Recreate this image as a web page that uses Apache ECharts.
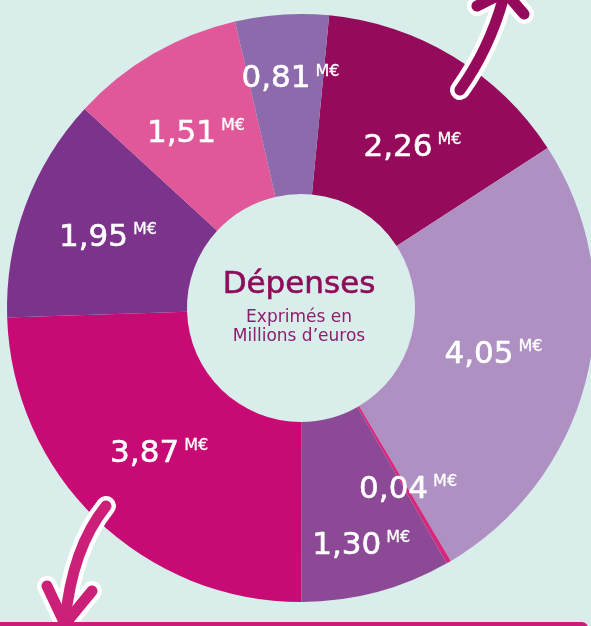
<!DOCTYPE html>
<html>
<head>
<meta charset="utf-8">
<script src="https://cdn.jsdelivr.net/npm/echarts@6/dist/echarts.min.js"></script>
<style>
html,body{margin:0;padding:0;background:#d9edeb;}
#c{width:591px;height:626px;}
</style>
</head>
<body>
<div id="c"></div>
<script>
// Data (clockwise from top)
const values = [2.26, 4.05, 0.04, 1.30, 3.87, 1.95, 1.51, 0.81];
const unit = 'M€';
const centerTitle = 'Dépenses';
const centerSub = ['Exprimés en', 'Millions d’euros'];

// Styles
const sliceColors = ['#950a5a', '#ae90c2', '#d8287e', '#8b4996', '#c80b74', '#7b338b', '#e05899', '#8d6aab'];
const labelShift = [[4, 17], [-9, 0], [3, 3], [7, 38], [2, -3], [1, 2], [-1, 5], [3, -22]];

const chart = echarts.init(document.getElementById('c'), null, {renderer: 'canvas'});
const FONT = '"DejaVu Sans", "Noto Sans", sans-serif';

function arrow(curve, barbs, color) {
  const els = [];
  [['#ffffff', 20, 20], [color, 11, 21]].forEach(([c, w, z]) => {
    els.push({type: 'bezierCurve', z: z, shape: curve,
      style: {fill: null, stroke: c, lineWidth: w, lineCap: 'round', lineJoin: 'round'}});
    els.push({type: 'polyline', z: z, shape: {points: barbs},
      style: {fill: null, stroke: c, lineWidth: w, lineCap: 'round', lineJoin: 'round'}});
  });
  return els;
}

const option = {
  backgroundColor: '#d9edeb',
  animation: false,
  series: [{
    type: 'pie',
    center: [301, 308],
    radius: [114, 294],
    startAngle: 84.5,
    clockwise: true,
    avoidLabelOverlap: false,
    emphasis: {disabled: true},
    itemStyle: {borderWidth: 0},
    label: {
      show: true,
      position: 'inside',
      formatter: p => '{v|' + p.value.toFixed(2).replace('.', ',') + '}{u|' + unit + '}',
      rich: {
        v: {color: '#fff', fontSize: 31, fontFamily: FONT, lineHeight: 34, textBorderColor: '#fff', textBorderWidth: 0.6},
        u: {color: '#fff', fontSize: 16, fontFamily: FONT, lineHeight: 18, verticalAlign: 'top', padding: [1, 0, 0, 5], textBorderColor: '#fff', textBorderWidth: 0.3}
      }
    },
    labelLine: {show: false},
    data: values.map((v, i) => ({
      value: v,
      itemStyle: {color: sliceColors[i]},
      label: {offset: labelShift[i]}
    }))
  }],
  graphic: [
    {type: 'text', z: 10, x: 299, y: 285,
      style: {text: centerTitle, fill: '#8e0d5b', font: '31px ' + FONT, align: 'center', verticalAlign: 'middle', stroke: '#8e0d5b', lineWidth: 0.6}},
    {type: 'text', z: 10, x: 299, y: 318,
      style: {text: centerSub[0], fill: '#8e1d6c', font: '17px ' + FONT, align: 'center', verticalAlign: 'middle'}},
    {type: 'text', z: 10, x: 299, y: 337,
      style: {text: centerSub[1], fill: '#8e1d6c', font: '17px ' + FONT, align: 'center', verticalAlign: 'middle'}},
    {type: 'rect', z: 30, shape: {x: -10, y: 622, width: 598, height: 20, r: 6}, style: {fill: '#c81e78'}}
  ].concat(
    arrow({x1: 106, y1: 506, cpx1: 72, cpy1: 548, x2: 65, y2: 622}, [[47, 586], [65, 624], [92, 591]], '#cc1f78'),
    arrow({x1: 460, y1: 90, cpx1: 490, cpy1: 48, x2: 504, y2: -4}, [[477, 6], [505, -8], [524, 14]], '#950a5a')
  )
};
chart.setOption(option);
</script>
</body>
</html>
